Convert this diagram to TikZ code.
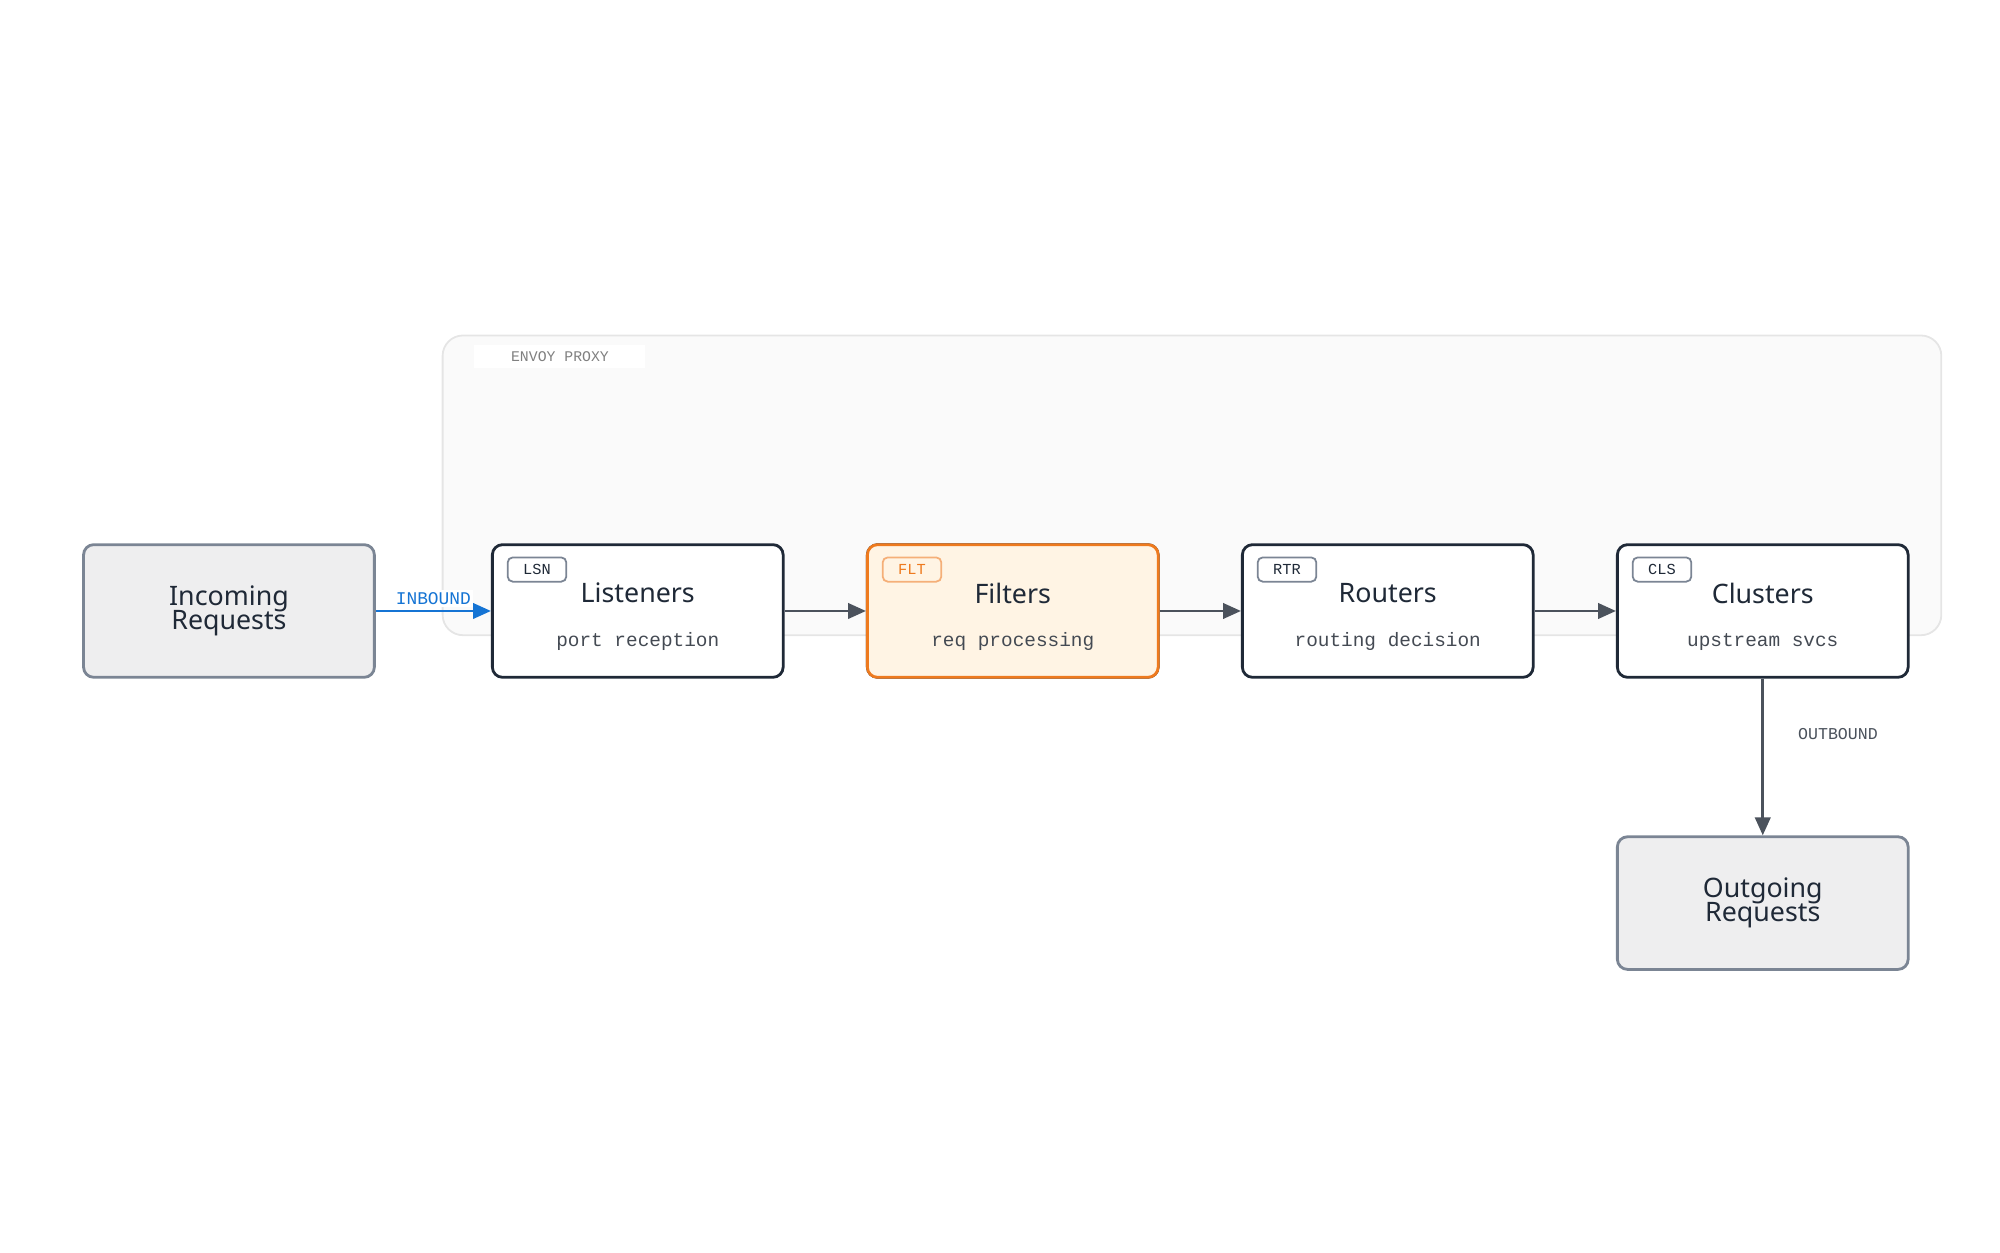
\documentclass[tikz,border=0pt]{standalone}
\usepackage{fontspec}
\setmainfont{Noto Sans}
\setmonofont{Liberation Mono}
\usetikzlibrary{arrows.meta}
\definecolor{dark}{HTML}{1F2937}
\definecolor{gbord}{HTML}{7B8594}
\definecolor{gfill}{HTML}{EEEEEF}
\definecolor{orng}{HTML}{EE7A1E}
\definecolor{ofill}{HTML}{FFF4E4}
\definecolor{blue}{HTML}{1574D4}
\definecolor{arr}{HTML}{4B525C}
\begin{document}
\begin{tikzpicture}[x=0.5pt,y=-0.5pt,
  box/.style={draw=dark,line width=1.1pt,fill=white,rounded corners=4pt,minimum width=114pt,minimum height=52pt,inner sep=0pt},
  ext/.style={box,draw=gbord,fill=gfill,font=\bfseries\fontsize{10.5}{11.5}\selectfont,text=dark,align=center},
  ttl/.style={font=\bfseries\fontsize{10.5}{12}\selectfont,text=dark},
  sub/.style={font=\ttfamily\fontsize{7.6}{9}\selectfont,text=arr!90!black},
  tag/.style={draw=gbord,line width=0.7pt,rounded corners=2pt,minimum width=23pt,minimum height=9.5pt,inner sep=0pt,font=\ttfamily\fontsize{6}{7}\selectfont,text=dark,fill=white},
  ar/.style={-{Triangle[length=7pt,width=6pt]},line width=1.1pt,draw=arr}]
\useasboundingbox (0,0) rectangle (1568,981.6);
\node[draw=black!10,fill=black!2,line width=0.7pt,rounded corners=8pt,minimum width=587.5pt,minimum height=117.5pt] (envoy) at (934.5,380.5) {};
\node[fill=white,minimum width=67pt,minimum height=9pt,inner sep=0pt,font=\ttfamily\fontsize{5.8}{7}\selectfont,text=gray] (el) at (439,279.5) {ENVOY PROXY};
\node[ext] (in) at (179.5,479) {Incoming\\[-2pt]Requests};
\node[ext] (out) at (1382,708) {Outgoing\\[-2pt]Requests};
\foreach \n/\x/\t/\s/\g in {lsn/500/Listeners/port reception/LSN,flt/794/Filters/req processing/FLT,rtr/1088/Routers/routing decision/RTR,cls/1382/Clusters/upstream svcs/CLS}{
  \node[box] (\n) at (\x,479) {};
  \node[ttl] (\n t) at (\x,465) {\t};
  \node[sub] (\n s) at (\x,503) {\s};
  \node[tag] (\n g) at (\x-79,446.5) {\g};
}
\node[box,draw=orng,fill=ofill] (flt) at (794,479) {};
\node[ttl] at (794,465) {Filters};
\node[sub] at (794,503) {req processing};
\node[tag,draw=orng!60,fill=ofill,text=orng] at (715,446.5) {FLT};
\draw[ar,draw=blue,-{Triangle[length=7pt,width=6pt,fill=blue]}] (in) -- (lsn) node[midway,above=1pt,fill=white,inner sep=1pt,font=\ttfamily\fontsize{7}{8}\selectfont,text=blue] {INBOUND};
\draw[ar] (lsn) -- (flt);
\draw[ar] (flt) -- (rtr);
\draw[ar] (rtr) -- (cls);
\draw[ar] (cls) -- (out) node[pos=0.35,right=10pt,font=\ttfamily\fontsize{6.5}{8}\selectfont,text=arr] {OUTBOUND};
\end{tikzpicture}
\end{document}
